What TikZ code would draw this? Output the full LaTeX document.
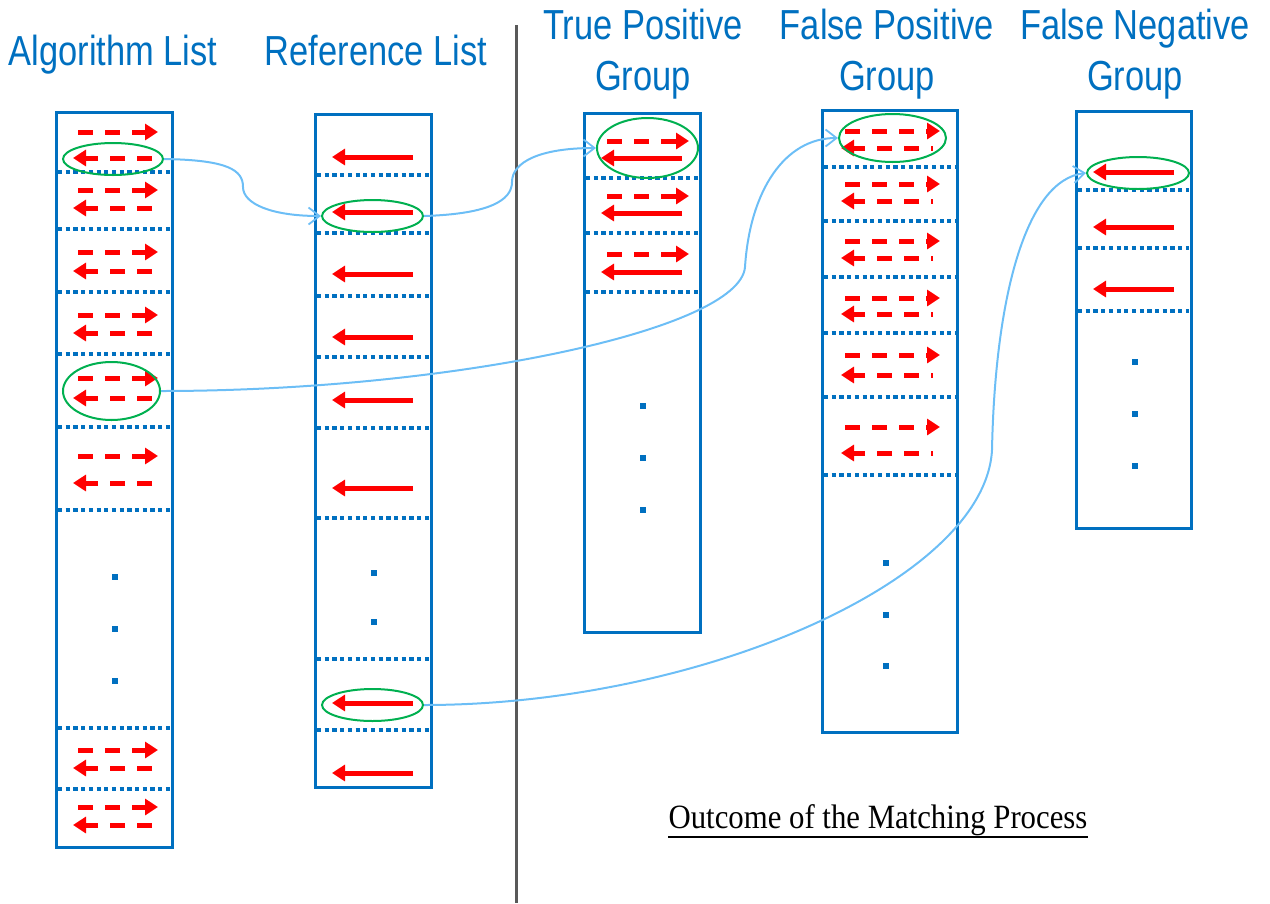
\documentclass[tikz,border=0pt]{standalone}
\usepackage{fontspec}
\setmainfont{Liberation Serif}
\newfontfamily\titlefont[FakeStretch=0.82]{Liberation Sans}
\newfontfamily\capfont[FakeStretch=0.905]{Liberation Serif}
\usetikzlibrary{arrows.meta,shapes.geometric,calc}
\definecolor{boxblue}{RGB}{0,112,192}
\definecolor{redarr}{RGB}{255,0,0}
\definecolor{mgreen}{RGB}{0,176,80}
\definecolor{connblue}{RGB}{108,190,246}
\definecolor{sepgray}{RGB}{89,89,89}
\newcommand\myDR[3]{\draw[dashr] (#1,#3) -- (#2,#3);}
\newcommand\myDL[3]{\draw[dashl] (#1,#3) -- (#2,#3);}
\newcommand\mySL[3]{\draw[solidl] (#1,#3) -- (#2,#3);}
\newcommand\mySep[3]{\draw[rowsep] (#1,#3) -- (#2,#3);}
\newcommand\myDot[2]{\fill[boxblue] (#1-2.7,#2-2.8) rectangle (#1+2.7,#2+2.8);}
\begin{document}
\begin{tikzpicture}[x=1pt,y=-1pt,
  listbox/.style={draw=boxblue,line width=3pt},
  rowsep/.style={draw=boxblue,line width=4pt,dash pattern=on 4.2pt off 3.5pt},
  dashr/.style={draw=redarr,line width=5pt,dash pattern=on 15pt off 12pt,-{Triangle[length=13pt,width=16pt]}},
  dashl/.style={dashr},
  dashlp/.style={dashr,dash phase=13pt},
  solidl/.style={draw=redarr,line width=5pt,-{Triangle[length=13pt,width=16pt]}},
  match/.style={ellipse,draw=mgreen,line width=2pt,inner sep=0pt},
  conn/.style={draw=connblue,line width=2pt,-{Straight Barb[length=11pt,width=17pt,line width=1.8pt]}},
  title/.style={font=\titlefont\fontsize{42}{50}\selectfont,text=boxblue,anchor=base,inner sep=0pt}
]
\useasboundingbox (0,0) rectangle (1270,903);

% titles
\node[title] (tAlg) at (113,65) {Algorithm List};
\node[title] (tRef) at (376,65) {Reference List};
\node[title] (tTPa) at (643,39) {True Positive};
\node[title] (tTPb) at (643,90) {Group};
\node[title] (tFPa) at (887,39) {False Positive};
\node[title] (tFPb) at (887,90) {Group};
\node[title] (tFNa) at (1135,39) {False Negative};
\node[title] (tFNb) at (1135,90) {Group};

% separator
\draw[sepgray,line width=3pt] (516,25) -- (516,903);

% ---------- Algorithm list ----------
\draw[listbox] (56,112) rectangle (172,847);
\foreach \r/\l in {132/158,190/208,252/271,315/333,378/398,456/483,750/768,807/825}{
  \myDR{78}{158}{\r}
  \myDL{152}{73}{\l}
}
\foreach \s in {172,229,292,354,427,510,728,789}{\mySep{58}{170}{\s}}
\foreach \d in {577,629,681}{\myDot{115}{\d}}

% ---------- Reference list ----------
\draw[listbox] (315,114) rectangle (431,787);
\foreach \a in {157,212,274,337,400,488,703,773}{\mySL{413}{332}{\a}}
\foreach \s in {175,233,296,357,428,518,659,730}{\mySep{317}{429}{\s}}
\foreach \d in {573,622}{\myDot{374}{\d}}

% ---------- True positive ----------
\draw[listbox] (584,113) rectangle (700,632);
\foreach \r/\l in {141/158,196/213,254/272}{
  \myDR{607}{689}{\r}
  \mySL{682}{601}{\l}
}
\foreach \s in {178,233,292}{\mySep{586}{698}{\s}}
\foreach \d in {406,458,510}{\myDot{643}{\d}}

% ---------- False positive ----------
\draw[listbox] (822,110) rectangle (957,732);
\foreach \r/\l in {131/148,184/201,241/258,298/314,355/375,427/453}{
  \myDR{845}{940}{\r}
  \draw[dashlp] (933,\l) -- (841,\l);
}
\foreach \s in {167,221,277,333,397,475}{\mySep{824}{955}{\s}}
\foreach \d in {563,615,666}{\myDot{886}{\d}}

% ---------- False negative ----------
\draw[listbox] (1076,111) rectangle (1191,528);
\foreach \a in {172,227,289}{\mySL{1174}{1093}{\a}}
\foreach \s in {190,248,311}{\mySep{1078}{1189}{\s}}
\foreach \d in {362,414,466}{\myDot{1135}{\d}}

% ---------- match ellipses ----------
\node[match,minimum width=100pt,minimum height=32pt] (eA1) at (113,159) {};
\node[match,minimum width=97pt,minimum height=58pt] (eA5) at (111.5,391) {};
\node[match,minimum width=101pt,minimum height=32pt] (eR1) at (372.5,216) {};
\node[match,minimum width=101pt,minimum height=32pt] (eR8) at (372.5,705) {};
\node[match,minimum width=101pt,minimum height=60pt] (eTP) at (647.5,148) {};
\node[match,minimum width=107pt,minimum height=48pt] (eFP) at (892.5,138) {};
\node[match,minimum width=102pt,minimum height=32pt] (eFN) at (1138,173) {};

% ---------- connectors ----------
\draw[conn] (eA1.east) .. controls (228,160) and (243,170) .. (243,187) .. controls (243,204) and (272,216) .. (eR1.west);
\draw[conn] (eR1.east) .. controls (490,214) and (512,200) .. (512,182) .. controls (512,162) and (540,148) .. (eTP.west);
\draw[conn] (eA5.east) .. controls (450,391) and (740,330) .. (745,267) .. controls (750,190) and (785,138) .. (eFP.west);
\draw[conn] (eR8.east) .. controls (700,705) and (985,580) .. (992,450) .. controls (995,300) and (1025,180) .. (eFN.west);

% ---------- caption ----------
\node[font=\capfont\fontsize{34}{39}\selectfont,anchor=base,inner sep=0pt] (cap) at (878,828) {Outcome of the Matching Process};
\draw[line width=2pt] ($(cap.base west)+(0,9)$) -- ($(cap.base east)+(0,9)$);
\end{tikzpicture}
\end{document}
